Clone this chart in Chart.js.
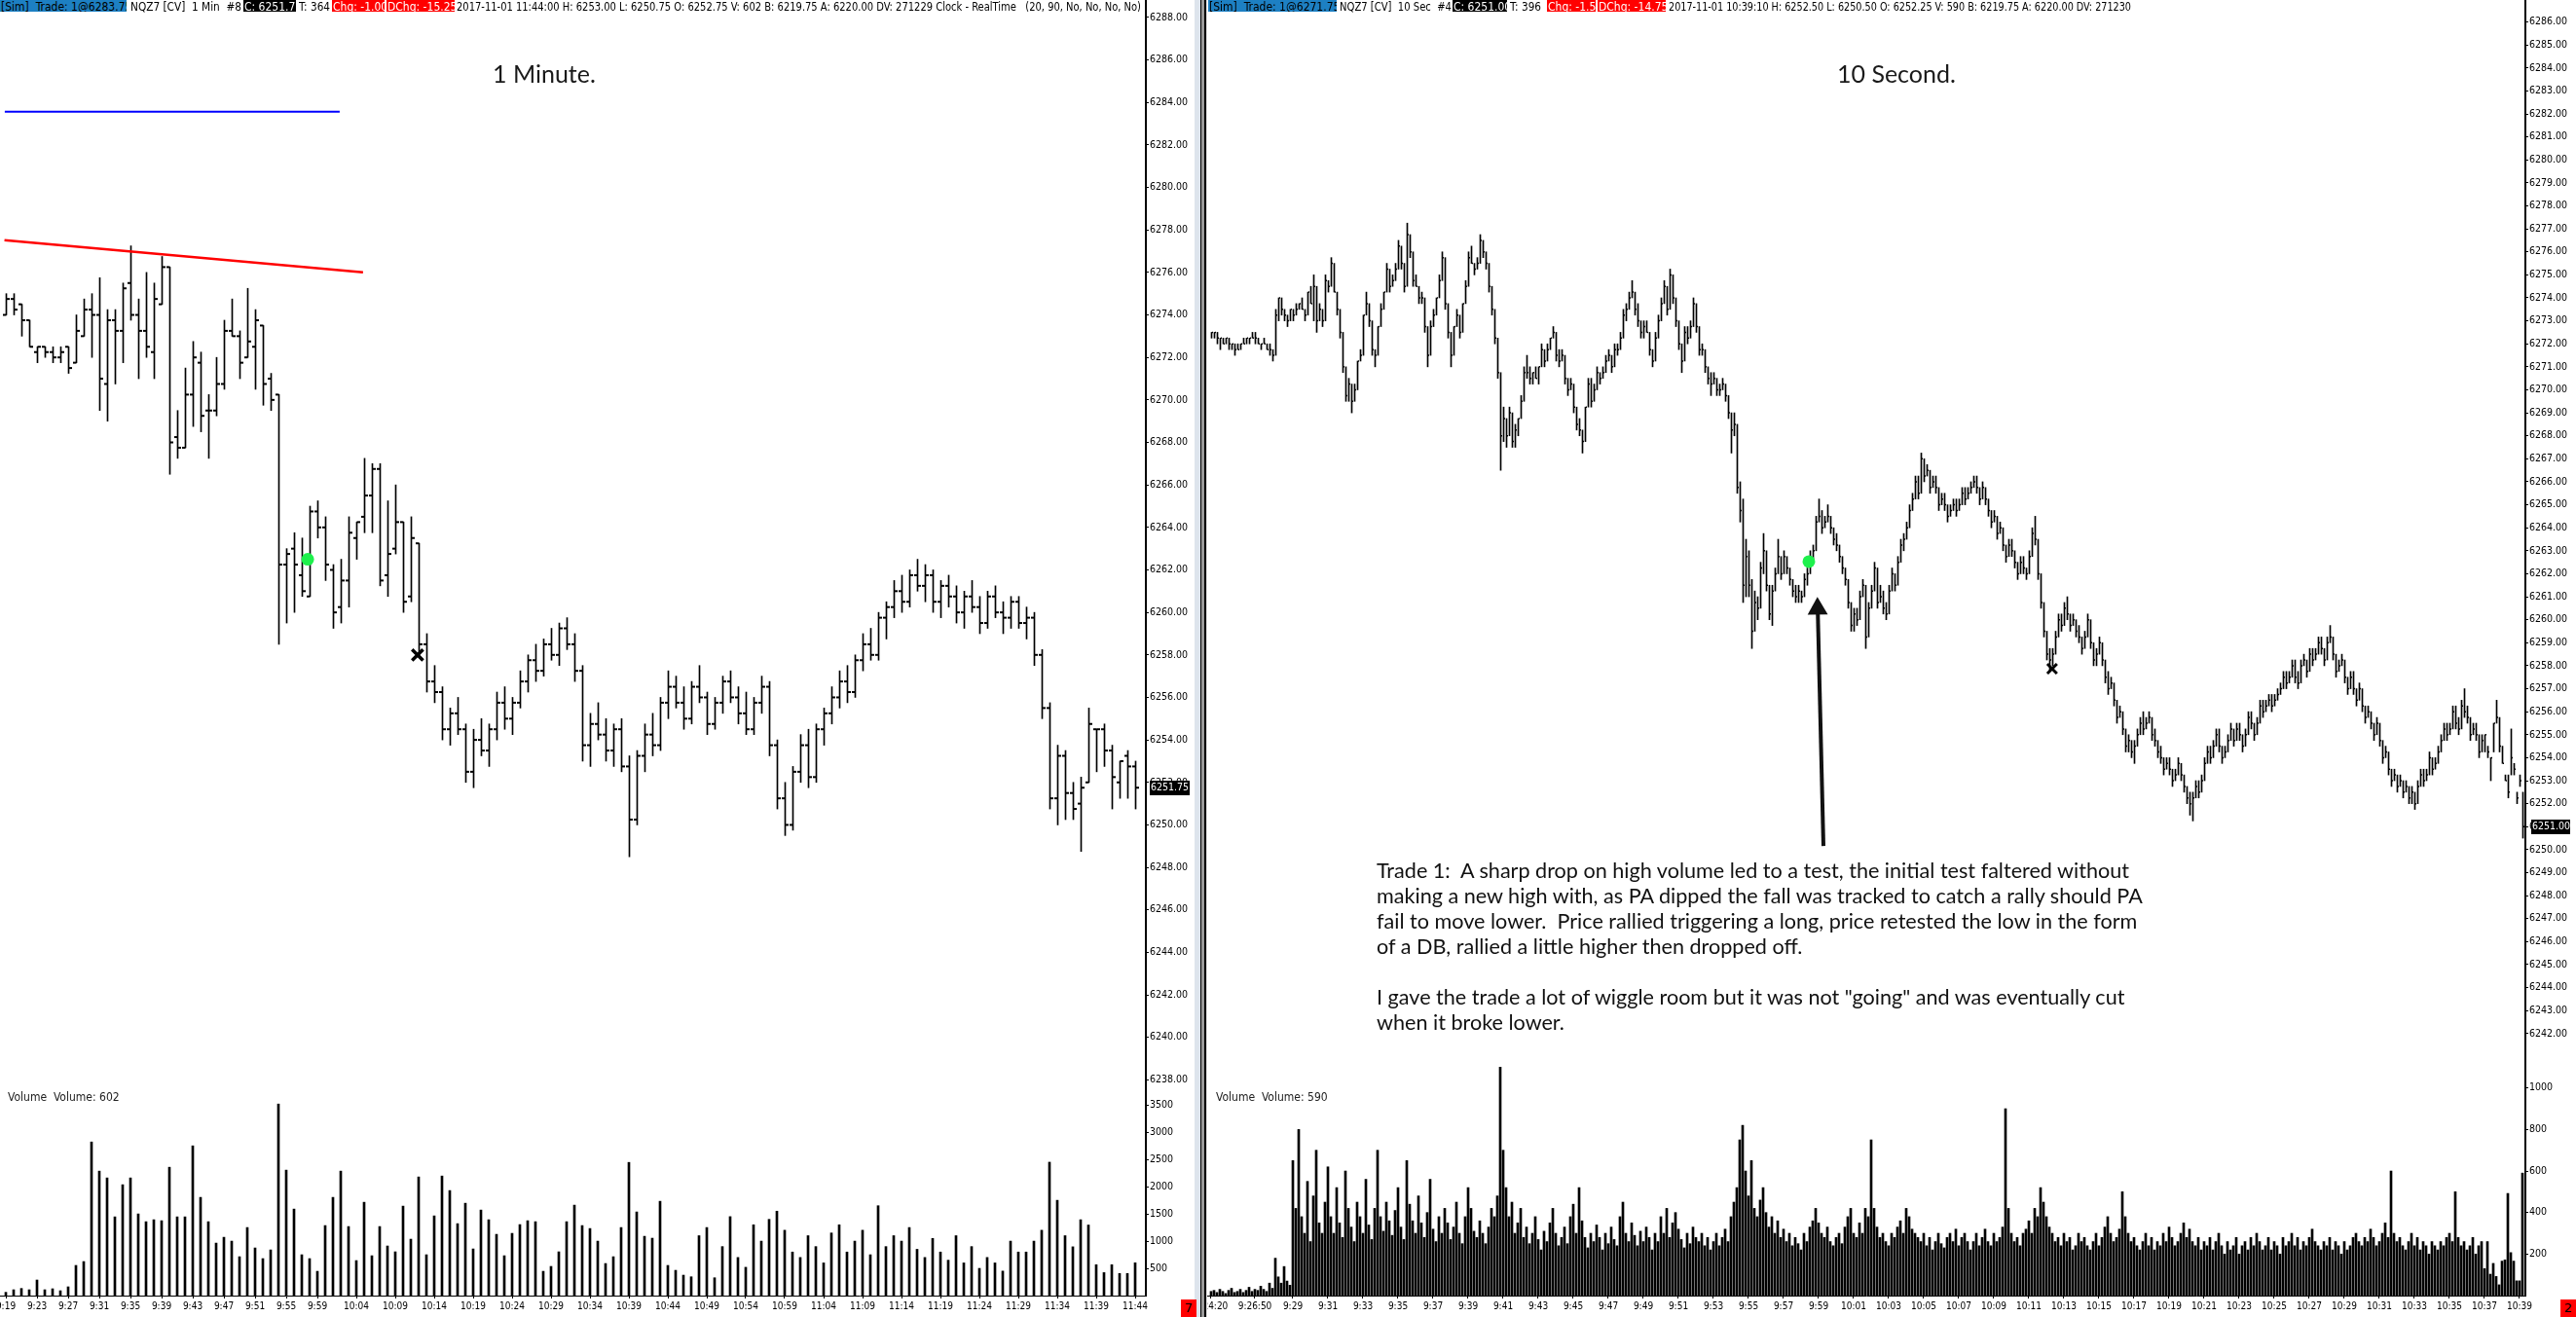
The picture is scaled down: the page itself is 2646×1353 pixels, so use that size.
<!DOCTYPE html>
<html>
<head>
<meta charset="utf-8">
<title>NQZ7 1 Min / 10 Sec</title>
<script src="https://cdn.jsdelivr.net/npm/chart.js@4.4.1/dist/chart.umd.min.js"></script>
<style>
  html, body { margin: 0; padding: 0; background: #fff; }
  body { width: 2646px; height: 1353px; position: relative; overflow: hidden; }
  .pane { position: absolute; top: 0; height: 1353px; overflow: hidden; }
  .pane canvas { position: absolute; }
  .hd { position: absolute; top: 0; height: 12px; line-height: 12px; font: 12px "Liberation Sans Narrow", "DejaVu Sans Condensed", sans-serif;
        white-space: pre; color: #000; transform-origin: 0 0; }
  .box { padding-left: 1px; box-sizing: border-box; overflow: hidden; }
  .sim { background: #1d80c3; }
  .blk { background: #000; color: #fff; }
  .red { background: #ff0000; color: #fff; }
  .ttl { position: absolute; font: 25px Lato, sans-serif; color: #1a1a1a; white-space: pre; }
  .vl { position: absolute; font: 12px "Liberation Sans Narrow", "DejaVu Sans Condensed", sans-serif; color: #222; white-space: pre; }
  .note { position: absolute; left: 1414px; font: 21px Lato, sans-serif; color: #111; white-space: pre; transform-origin: 0 0; }
  .sq { position: absolute; top: 1335px; height: 18px; width: 16px; background: #f00; color: #000;
        font: 13px "DejaVu Sans", sans-serif; text-align: center; line-height: 18px; }
  .sep { position: absolute; top: 0; height: 1353px; }
</style>
</head>
<body>

<div class="pane" style="left:0;width:1227px">
  <canvas id="lp" width="1252" height="1142" style="left:-20px;top:-12px"></canvas>
  <canvas id="lv" width="1252" height="247" style="left:-20px;top:1106px"></canvas>
</div>
<div class="pane" style="left:1240px;width:1406px">
  <canvas id="rp" width="1436" height="1099" style="left:-30px;top:-12px"></canvas>
  <canvas id="rv" width="1436" height="290" style="left:-30px;top:1063px"></canvas>
</div>

<div class="sep" style="left:1227px;width:6px;background:#dde4ec"></div>
<div class="sep" style="left:1233px;width:1px;background:#000"></div>
<div class="sep" style="left:1234px;width:3px;background:#9a9a9a"></div>
<div class="sep" style="left:1237px;width:2px;background:#000"></div>
<div class="sep" style="left:1239px;width:1px;background:#e4e4e4"></div>

<div class="hd box sim" data-w="130" style="left:0;width:130px">[Sim]  Trade: 1@6283.75</div>
<div class="hd" data-w="114" style="left:134px">NQZ7 [CV]  1 Min  #8</div>
<div class="hd box blk" style="left:250px;width:54px">C: 6251.75</div>
<div class="hd" data-w="32" style="left:307px">T: 364</div>
<div class="hd box red" style="left:341px;width:54px">Chg: -1.00</div>
<div class="hd box red" style="left:397px;width:70px">DChg: -15.25</div>
<div class="hd" data-w="703" style="left:469px">2017-11-01 11:44:00 H: 6253.00 L: 6250.75 O: 6252.75 V: 602 B: 6219.75 A: 6220.00 DV: 271229 Clock - RealTime   (20, 90, No, No, No, No)</div>

<div class="hd box sim" data-w="132" style="left:1241px;width:132px">[Sim]  Trade: 1@6271.75</div>
<div class="hd" data-w="115" style="left:1376px">NQZ7 [CV]  10 Sec  #4</div>
<div class="hd box blk" style="left:1492px;width:56px">C: 6251.00</div>
<div class="hd" data-w="32" style="left:1551px">T: 396</div>
<div class="hd box red" style="left:1589px;width:50px">Chg: -1.50</div>
<div class="hd box red" style="left:1641px;width:70px">DChg: -14.75</div>
<div class="hd" data-w="475" style="left:1714px">2017-11-01 10:39:10 H: 6252.50 L: 6250.50 O: 6252.25 V: 590 B: 6219.75 A: 6220.00 DV: 271230</div>

<div class="ttl" style="left:506px;top:60px">1 Minute.</div>
<div class="ttl" style="left:1887px;top:60px">10 Second.</div>

<div class="vl" style="left:8px;top:1120px">Volume  Volume: 602</div>
<div class="vl" style="left:1249px;top:1120px">Volume  Volume: 590</div>

<div class="note" id="n1" style="top:881px">Trade 1:  A sharp drop on high volume led to a test, the initial test faltered without</div>
<div class="note" style="top:907px">making a new high with, as PA dipped the fall was tracked to catch a rally should PA</div>
<div class="note" style="top:933px">fail to move lower.  Price rallied triggering a long, price retested the low in the form</div>
<div class="note" style="top:959px">of a DB, rallied a little higher then dropped off.</div>
<div class="note" style="top:1011px">I gave the trade a lot of wiggle room but it was not "going" and was eventually cut</div>
<div class="note" style="top:1037px">when it broke lower.</div>

<div class="sq" style="left:1213px">7</div>
<div class="sq" style="left:2630px">2</div>

<script>
// ================= 1 minute chart: bars 9:19 .. 11:44 =================
const minTickIdx = [0, 4, 8, 12, 16, 20, 24, 28, 32, 36, 40, 45, 50, 55, 60, 65, 70, 75, 80, 85, 90, 95, 100, 105, 110, 115, 120, 125, 130, 135, 140, 145];
const minTickLab = ['9:19', '9:23', '9:27', '9:31', '9:35', '9:39', '9:43', '9:47', '9:51', '9:55', '9:59', '10:04', '10:09', '10:14', '10:19', '10:24',
  '10:29', '10:34', '10:39', '10:44', '10:49', '10:54', '10:59', '11:04', '11:09', '11:14', '11:19', '11:24', '11:29', '11:34', '11:39', '11:44'];
const minPriceTicks = [6238, 6240, 6242, 6244, 6246, 6248, 6250, 6252, 6254, 6256, 6258, 6260, 6262, 6264, 6266, 6268, 6270, 6272, 6274, 6276,
  6278, 6280, 6282, 6284, 6286, 6288];
const minVolTicks = [500, 1000, 1500, 2000, 2500, 3000, 3500];

const minO = [
  6274.0, 6274.75, 6274.5, 6273.75, 6272.25, 6272.5, 6272.25, 6272.0, 6272.5, 6271.75, 6273.0, 6274.25, 6274.0, 6270.75, 6273.75, 6273.25, 6275.5, 6274.0, 6273.25, 6272.25,
  6274.5, 6276.25, 6268.25, 6267.75, 6270.25, 6271.75, 6269.5, 6269.5, 6270.75, 6273.25, 6273.0, 6272.0, 6272.5, 6273.5, 6271.0, 6270.25, 6262.25, 6263.0, 6261.75, 6260.75,
  6264.75, 6264.0, 6262.0, 6260.25, 6261.5, 6263.5, 6264.5, 6265.5, 6266.75, 6261.75, 6263.0, 6264.25, 6260.75, 6263.25, 6258.5, 6256.75, 6256.25, 6254.5, 6255.25, 6254.5,
  6252.5, 6254.0, 6253.5, 6254.5, 6255.75, 6255.0, 6255.75, 6256.75, 6257.75, 6257.25, 6258.5, 6258.0, 6259.25, 6258.5, 6257.25, 6253.75, 6254.75, 6254.25, 6253.5, 6254.5,
  6252.75, 6250.25, 6253.25, 6254.25, 6253.75, 6255.75, 6256.5, 6255.75, 6255.0, 6256.5, 6256.0, 6254.75, 6255.75, 6256.75, 6256.0, 6255.25, 6254.5, 6255.75, 6256.5, 6253.75,
  6251.25, 6250.0, 6252.5, 6253.75, 6252.25, 6254.5, 6255.25, 6256.0, 6256.75, 6256.25, 6257.75, 6258.5, 6258.0, 6259.75, 6260.25, 6261.0, 6260.5, 6261.75, 6261.25, 6261.75,
  6260.5, 6261.25, 6260.75, 6260.0, 6260.75, 6260.25, 6259.5, 6260.75, 6260.0, 6259.75, 6260.5, 6259.5, 6259.75, 6258.0, 6255.5, 6251.25, 6253.25, 6251.5, 6251.0, 6252.0,
  6254.5, 6254.5, 6253.5, 6252.0, 6253.25, 6252.75];
const minH = [
  6275.0, 6275.0, 6274.5, 6273.75, 6272.5, 6272.5, 6272.5, 6272.5, 6272.5, 6274.0, 6274.75, 6275.0, 6275.75, 6274.25, 6274.25, 6275.5, 6277.25, 6274.75, 6276.0, 6275.5,
  6276.75, 6276.25, 6269.5, 6271.5, 6272.75, 6272.25, 6270.25, 6272.0, 6273.75, 6274.75, 6273.25, 6275.25, 6274.25, 6273.5, 6271.25, 6270.25, 6263.0, 6263.75, 6263.5, 6265.0,
  6265.25, 6264.5, 6262.25, 6262.5, 6264.5, 6264.25, 6267.25, 6267.0, 6267.0, 6265.25, 6266.0, 6264.25, 6264.5, 6263.25, 6259.0, 6257.5, 6256.5, 6255.5, 6256.0, 6254.75,
  6254.5, 6255.0, 6254.75, 6256.25, 6256.5, 6256.0, 6257.25, 6258.0, 6258.5, 6258.75, 6259.25, 6259.5, 6259.75, 6259.0, 6257.5, 6255.25, 6255.75, 6255.0, 6254.75, 6255.0,
  6253.25, 6253.5, 6254.75, 6255.25, 6256.0, 6257.25, 6257.0, 6256.5, 6256.75, 6257.5, 6256.25, 6256.0, 6257.0, 6257.25, 6256.5, 6256.25, 6256.0, 6257.0, 6256.75, 6254.0,
  6252.0, 6252.75, 6254.25, 6254.5, 6254.75, 6255.5, 6256.5, 6257.25, 6257.5, 6258.0, 6259.0, 6259.25, 6260.0, 6260.5, 6261.5, 6261.75, 6262.0, 6262.5, 6262.25, 6262.0,
  6261.5, 6261.75, 6261.25, 6261.0, 6261.5, 6260.75, 6261.0, 6261.25, 6260.5, 6260.75, 6260.75, 6260.25, 6260.0, 6258.25, 6255.75, 6253.75, 6253.5, 6252.0, 6252.25, 6255.5,
  6254.5, 6254.75, 6253.75, 6253.0, 6253.5, 6253.0];
const minL = [
  6274.0, 6274.0, 6273.0, 6272.5, 6271.75, 6272.0, 6271.75, 6271.75, 6271.25, 6271.75, 6273.0, 6272.0, 6269.5, 6269.0, 6270.75, 6271.75, 6273.75, 6271.0, 6272.0, 6271.0,
  6274.5, 6266.5, 6267.25, 6267.75, 6268.75, 6268.5, 6267.25, 6269.25, 6270.5, 6273.0, 6271.0, 6272.0, 6270.5, 6269.75, 6269.5, 6258.5, 6259.5, 6260.0, 6260.75, 6260.75,
  6263.5, 6261.5, 6259.25, 6259.5, 6260.25, 6262.5, 6263.75, 6263.75, 6261.25, 6260.75, 6262.75, 6260.0, 6260.5, 6258.0, 6256.25, 6255.75, 6254.0, 6253.75, 6254.25, 6252.0,
  6251.75, 6253.25, 6252.75, 6254.0, 6254.5, 6254.25, 6255.5, 6256.25, 6256.75, 6257.0, 6257.75, 6257.5, 6258.25, 6256.75, 6253.0, 6252.75, 6254.0, 6253.0, 6252.75, 6252.5,
  6248.5, 6250.0, 6252.5, 6253.25, 6253.5, 6255.0, 6255.5, 6254.5, 6254.75, 6255.75, 6254.25, 6254.5, 6255.25, 6255.75, 6254.75, 6254.25, 6254.25, 6255.25, 6253.25, 6250.75,
  6249.5, 6249.75, 6252.0, 6251.75, 6252.0, 6253.75, 6254.75, 6255.5, 6255.75, 6256.0, 6257.25, 6257.75, 6257.75, 6258.75, 6259.75, 6260.0, 6260.25, 6261.0, 6260.5, 6260.0,
  6259.75, 6260.25, 6259.5, 6259.25, 6260.0, 6259.0, 6259.25, 6259.75, 6259.0, 6259.25, 6259.25, 6258.75, 6257.5, 6255.0, 6250.75, 6250.0, 6250.25, 6250.25, 6248.75, 6252.0,
  6252.5, 6252.75, 6250.75, 6251.25, 6251.25, 6250.75];
const minC = [
  6274.75, 6274.25, 6273.75, 6272.5, 6272.5, 6272.25, 6272.0, 6272.25, 6271.5, 6273.25, 6274.25, 6274.0, 6271.0, 6273.75, 6273.25, 6275.25, 6274.0, 6273.25, 6272.5, 6274.75,
  6276.25, 6268.0, 6267.75, 6270.25, 6272.0, 6269.25, 6269.5, 6270.75, 6273.25, 6273.0, 6271.75, 6272.75, 6273.75, 6270.75, 6270.0, 6262.25, 6262.75, 6262.25, 6261.0, 6264.75,
  6264.0, 6262.25, 6260.0, 6261.5, 6263.75, 6264.25, 6265.5, 6266.75, 6261.5, 6262.75, 6264.25, 6260.5, 6263.5, 6258.5, 6256.75, 6256.25, 6254.5, 6255.25, 6254.5, 6252.5,
  6254.0, 6253.5, 6254.5, 6255.75, 6255.0, 6255.75, 6256.75, 6257.75, 6257.25, 6258.5, 6258.0, 6259.25, 6258.5, 6257.25, 6253.75, 6254.75, 6254.25, 6253.5, 6254.5, 6252.75,
  6250.25, 6253.25, 6254.25, 6253.75, 6255.75, 6256.5, 6255.75, 6255.0, 6256.5, 6256.0, 6254.75, 6255.75, 6256.75, 6256.0, 6255.25, 6254.5, 6255.75, 6256.5, 6253.75, 6251.25,
  6250.0, 6252.5, 6253.75, 6252.25, 6254.5, 6255.25, 6256.0, 6256.75, 6256.25, 6257.75, 6258.5, 6258.0, 6259.75, 6260.25, 6261.0, 6260.5, 6261.75, 6261.25, 6261.75, 6260.5,
  6261.25, 6260.75, 6260.0, 6260.75, 6260.25, 6259.5, 6260.75, 6260.0, 6259.75, 6260.5, 6259.5, 6259.75, 6258.0, 6255.5, 6251.25, 6253.25, 6251.5, 6250.75, 6251.75, 6254.75,
  6254.5, 6253.5, 6252.25, 6253.0, 6252.75, 6251.75];
const minVol = [
  60, 107, 131, 107, 286, 107, 125, 89, 161, 554, 625, 2821, 2286, 2161, 1446, 2036, 2161, 1500, 1357, 1393,
  1375, 2357, 1446, 1446, 2750, 1804, 1357, 964, 1071, 1000, 714, 1250, 875, 679, 839, 3518, 2304, 1589, 750, 679,
  446, 1286, 1804, 2286, 1268, 643, 1714, 732, 1268, 911, 804, 1643, 1036, 2179, 750, 1464, 2196, 1929, 1321, 1696,
  857, 1571, 1393, 1125, 732, 1143, 1304, 1375, 1357, 446, 536, 804, 1357, 1661, 1286, 1232, 1000, 589, 714, 1250,
  2446, 1536, 1089, 1054, 1732, 554, 464, 375, 345, 1100, 1250, 327, 900, 1450, 700, 520, 1300, 1000, 1400, 1550,
  1200, 800, 700, 1100, 900, 600, 1150, 1300, 800, 1000, 1200, 750, 1650, 900, 1100, 1000, 1250, 850, 700, 1050,
  800, 650, 1100, 600, 900, 500, 700, 600, 450, 1000, 800, 800, 1000, 1200, 2450, 1750, 1100, 896, 1393, 1296,
  567, 422, 567, 406, 406, 602];

// drawings on the 1 minute chart, as [bar index, price]
const minBlueLine = [[-0.2, 6283.56], [42.8, 6283.56]];
const minRedLine = [[-0.24, 6277.52], [45.8, 6276.0]];
const minGreenDot = [[38.7, 6262.5]];
const minCross = [[52.8, 6258.0]];
const minLast = 6251.75;

// ================= 10 second chart =================
const secTickIdx = [0, 15, 28, 40, 52, 64, 76, 88, 100, 112, 124, 136, 148, 160, 172, 184, 196, 208, 220, 232, 244, 256, 268, 280, 292, 304, 316, 328,
  340, 352, 364, 376, 388, 400, 412, 424, 436, 448];
const secTickLab = ['9:24:20', '9:26:50', '9:29', '9:31', '9:33', '9:35', '9:37', '9:39', '9:41', '9:43', '9:45', '9:47', '9:49', '9:51', '9:53', '9:55',
  '9:57', '9:59', '10:01', '10:03', '10:05', '10:07', '10:09', '10:11', '10:13', '10:15', '10:17', '10:19', '10:21', '10:23', '10:25', '10:27', '10:29',
  '10:31', '10:33', '10:35', '10:37', '10:39'];
const secPriceTicks = [6242, 6243, 6244, 6245, 6246, 6247, 6248, 6249, 6250, 6251, 6252, 6253, 6254, 6255, 6256, 6257, 6258, 6259, 6260, 6261, 6262,
  6263, 6264, 6265, 6266, 6267, 6268, 6269, 6270, 6271, 6272, 6273, 6274, 6275, 6276, 6277, 6278, 6279, 6280, 6281, 6282, 6283, 6284, 6285, 6286];
const secVolTicks = [200, 400, 600, 800, 1000];

const secH = [
  6272.5, 6272.5, 6272.5, 6272.25, 6272.25, 6272.25, 6272.25, 6272.0, 6272.0, 6272.0,
  6272.0, 6272.25, 6272.25, 6272.25, 6272.5, 6272.5, 6272.25, 6272.0, 6272.25, 6272.0,
  6272.0, 6271.75, 6273.5, 6274.0, 6274.0, 6273.5, 6273.25, 6273.5, 6273.5, 6273.75,
  6273.75, 6274.0, 6273.5, 6274.25, 6274.5, 6275.0, 6274.5, 6273.75, 6273.5, 6275.0,
  6274.75, 6275.75, 6275.5, 6274.25, 6273.5, 6272.5, 6271.0, 6270.5, 6270.25, 6270.25,
  6271.25, 6271.75, 6273.25, 6274.25, 6273.75, 6273.0, 6271.75, 6272.75, 6273.75, 6274.25,
  6275.5, 6275.25, 6275.0, 6275.5, 6276.5, 6276.25, 6275.5, 6277.25, 6276.75, 6276.0,
  6275.0, 6274.5, 6274.25, 6274.0, 6272.75, 6273.0, 6273.5, 6274.0, 6275.0, 6276.0,
  6275.75, 6273.75, 6272.5, 6272.75, 6273.5, 6273.25, 6273.75, 6274.75, 6276.0, 6276.25,
  6275.5, 6275.75, 6276.75, 6276.5, 6276.0, 6275.5, 6274.5, 6273.5, 6272.25, 6270.75,
  6269.25, 6268.75, 6269.25, 6269.0, 6268.5, 6268.75, 6269.75, 6271.0, 6271.5, 6271.0,
  6270.75, 6271.0, 6271.0, 6272.0, 6271.75, 6272.0, 6272.25, 6272.75, 6272.5, 6271.75,
  6271.75, 6271.5, 6270.5, 6270.5, 6270.25, 6269.25, 6268.75, 6268.25, 6269.25, 6270.5,
  6270.5, 6270.25, 6271.0, 6270.75, 6271.0, 6271.5, 6271.75, 6271.5, 6272.0, 6272.0,
  6272.5, 6273.5, 6273.75, 6274.25, 6274.75, 6274.25, 6273.75, 6273.0, 6273.0, 6273.0,
  6272.5, 6271.75, 6272.5, 6273.25, 6274.0, 6274.75, 6274.5, 6275.25, 6275.0, 6274.0,
  6273.0, 6272.0, 6272.75, 6272.75, 6273.0, 6274.0, 6273.75, 6272.75, 6272.0, 6271.75,
  6271.0, 6270.75, 6270.75, 6270.5, 6270.25, 6270.5, 6270.25, 6269.75, 6269.0, 6269.0,
  6268.5, 6266.0, 6265.25, 6263.5, 6263.0, 6261.75, 6261.25, 6261.0, 6262.5, 6263.75,
  6263.0, 6261.5, 6261.5, 6262.25, 6263.5, 6262.75, 6263.0, 6262.75, 6262.25, 6261.75,
  6261.5, 6261.5, 6261.25, 6262.0, 6262.25, 6263.0, 6263.25, 6264.5, 6265.25, 6264.75,
  6264.5, 6265.0, 6264.5, 6264.0, 6263.75, 6263.25, 6262.75, 6262.25, 6261.75, 6260.75,
  6260.5, 6260.5, 6261.25, 6261.75, 6261.5, 6260.75, 6261.5, 6262.5, 6262.25, 6261.5,
  6261.25, 6260.75, 6261.5, 6262.25, 6262.0, 6262.75, 6263.5, 6263.75, 6264.25, 6265.0,
  6265.5, 6266.25, 6266.25, 6267.25, 6267.0, 6266.75, 6266.5, 6266.25, 6266.25, 6265.75,
  6265.5, 6265.5, 6265.0, 6265.0, 6265.25, 6265.25, 6265.25, 6265.75, 6265.75, 6265.75,
  6266.0, 6266.25, 6266.25, 6265.75, 6266.0, 6265.75, 6265.25, 6264.75, 6264.75, 6264.5,
  6264.25, 6264.0, 6263.25, 6263.5, 6263.5, 6263.0, 6262.5, 6262.75, 6262.75, 6262.25,
  6263.0, 6264.0, 6264.5, 6263.5, 6262.0, 6260.75, 6259.5, 6258.75, 6258.75, 6259.5,
  6260.25, 6260.25, 6260.75, 6261.0, 6260.25, 6260.25, 6260.0, 6259.75, 6259.25, 6259.5,
  6260.25, 6260.0, 6259.0, 6258.75, 6259.25, 6259.0, 6258.25, 6257.75, 6257.5, 6257.25,
  6256.5, 6256.25, 6256.0, 6255.25, 6255.0, 6254.75, 6254.75, 6255.25, 6255.75, 6256.0,
  6255.75, 6256.0, 6255.75, 6255.25, 6254.75, 6254.5, 6254.0, 6254.0, 6254.0, 6253.5,
  6253.5, 6254.0, 6253.75, 6253.25, 6252.75, 6252.5, 6252.5, 6253.0, 6253.0, 6253.25,
  6254.0, 6254.5, 6254.5, 6254.75, 6255.25, 6255.25, 6254.5, 6254.5, 6255.0, 6255.5,
  6255.25, 6255.5, 6255.5, 6255.0, 6255.25, 6256.0, 6256.0, 6255.5, 6255.75, 6256.5,
  6256.5, 6256.5, 6256.75, 6256.75, 6256.75, 6257.0, 6257.25, 6257.75, 6257.75, 6257.75,
  6258.25, 6258.25, 6257.75, 6258.25, 6258.5, 6258.25, 6258.75, 6258.75, 6258.75, 6259.25,
  6259.25, 6258.75, 6259.25, 6259.75, 6259.25, 6258.5, 6258.25, 6258.5, 6258.25, 6257.5,
  6257.75, 6257.75, 6257.0, 6257.25, 6257.0, 6256.25, 6256.25, 6256.0, 6255.5, 6255.75,
  6255.5, 6254.75, 6254.5, 6254.25, 6253.5, 6253.5, 6253.25, 6253.25, 6253.0, 6253.0,
  6252.75, 6252.75, 6252.5, 6253.0, 6253.5, 6253.5, 6253.5, 6254.25, 6254.0, 6254.0,
  6254.5, 6255.0, 6255.5, 6255.5, 6255.5, 6256.25, 6256.25, 6255.75, 6256.5, 6257.0,
  6256.25, 6255.75, 6255.5, 6255.5, 6255.0, 6255.0, 6255.0, 6254.5, 6254.0, 6255.5,
  6256.5, 6255.75, 6254.5, 6253.25, 6253.25, 6255.25, 6253.75, 6252.5, 6253.25, 6252.5];
const secL = [
  6272.25, 6272.25, 6272.0, 6271.75, 6272.0, 6272.0, 6271.75, 6271.75, 6271.5, 6271.75,
  6271.75, 6272.0, 6272.0, 6272.0, 6272.25, 6272.0, 6272.0, 6271.75, 6272.0, 6271.75,
  6271.5, 6271.25, 6271.5, 6273.0, 6273.25, 6273.0, 6272.75, 6273.0, 6273.0, 6273.25,
  6273.5, 6273.5, 6273.0, 6273.25, 6273.75, 6273.0, 6272.5, 6273.0, 6272.75, 6273.0,
  6274.25, 6274.5, 6274.25, 6273.25, 6272.25, 6270.75, 6269.5, 6269.5, 6269.0, 6269.5,
  6270.0, 6271.25, 6271.5, 6273.25, 6272.75, 6271.5, 6271.0, 6271.5, 6272.75, 6273.5,
  6274.25, 6274.25, 6274.5, 6274.75, 6275.25, 6275.25, 6274.25, 6274.5, 6275.75, 6274.5,
  6274.5, 6273.75, 6273.75, 6272.5, 6271.0, 6271.5, 6272.75, 6273.25, 6274.0, 6274.75,
  6273.5, 6272.25, 6271.0, 6271.5, 6272.75, 6272.25, 6272.5, 6273.75, 6274.5, 6275.5,
  6275.0, 6275.25, 6275.5, 6275.75, 6275.25, 6274.25, 6273.25, 6272.0, 6270.5, 6266.5,
  6267.75, 6267.5, 6268.0, 6267.5, 6267.5, 6268.0, 6268.75, 6269.5, 6270.5, 6270.25,
  6270.25, 6270.5, 6270.25, 6271.0, 6271.0, 6271.25, 6271.75, 6272.25, 6271.25, 6271.0,
  6271.25, 6270.25, 6269.75, 6270.0, 6269.0, 6268.25, 6268.0, 6267.25, 6267.75, 6269.25,
  6269.25, 6269.5, 6270.0, 6270.25, 6270.5, 6270.75, 6271.25, 6270.75, 6271.0, 6271.5,
  6271.75, 6272.25, 6273.0, 6273.5, 6274.0, 6273.25, 6272.75, 6272.25, 6272.25, 6272.5,
  6271.5, 6271.0, 6271.25, 6272.25, 6273.0, 6273.75, 6273.25, 6273.5, 6273.75, 6272.75,
  6271.75, 6270.75, 6271.25, 6272.0, 6272.25, 6272.75, 6272.5, 6271.5, 6271.5, 6270.75,
  6270.25, 6269.75, 6270.25, 6269.75, 6269.75, 6270.0, 6269.5, 6268.75, 6267.25, 6268.0,
  6265.5, 6264.25, 6260.75, 6261.0, 6261.0, 6258.75, 6259.5, 6260.0, 6260.5, 6262.0,
  6261.25, 6260.0, 6259.75, 6261.25, 6262.0, 6261.75, 6262.0, 6262.0, 6261.5, 6261.0,
  6260.75, 6260.75, 6260.75, 6261.0, 6261.5, 6262.0, 6262.5, 6263.0, 6264.25, 6263.75,
  6264.0, 6264.25, 6263.75, 6263.25, 6263.0, 6262.5, 6262.0, 6261.5, 6260.5, 6259.5,
  6259.5, 6259.75, 6260.0, 6261.0, 6258.75, 6259.25, 6260.5, 6261.25, 6260.5, 6260.75,
  6260.25, 6260.0, 6260.25, 6261.25, 6261.25, 6261.5, 6262.5, 6263.0, 6263.5, 6264.0,
  6264.75, 6265.25, 6265.25, 6265.5, 6266.0, 6266.25, 6265.5, 6265.75, 6265.5, 6264.75,
  6265.0, 6264.75, 6264.25, 6264.5, 6264.75, 6264.5, 6264.75, 6265.0, 6265.0, 6265.25,
  6265.5, 6265.75, 6265.5, 6265.0, 6265.25, 6265.0, 6264.5, 6264.0, 6264.25, 6263.5,
  6263.75, 6263.0, 6262.5, 6262.75, 6262.75, 6262.25, 6261.75, 6262.0, 6262.0, 6261.75,
  6262.0, 6262.75, 6263.25, 6261.75, 6260.5, 6259.25, 6258.25, 6257.75, 6258.0, 6258.5,
  6259.25, 6259.5, 6259.75, 6260.0, 6259.5, 6259.75, 6259.25, 6259.0, 6258.5, 6258.75,
  6259.25, 6258.75, 6258.0, 6258.0, 6258.5, 6258.0, 6257.25, 6256.75, 6257.0, 6256.25,
  6255.5, 6255.75, 6255.0, 6254.25, 6254.25, 6254.0, 6253.75, 6254.5, 6255.0, 6255.0,
  6255.25, 6255.5, 6254.75, 6254.5, 6254.0, 6253.75, 6253.25, 6253.5, 6253.25, 6252.75,
  6253.0, 6253.25, 6253.0, 6252.5, 6252.0, 6251.5, 6251.25, 6252.25, 6252.25, 6252.5,
  6253.0, 6253.75, 6253.75, 6254.0, 6254.5, 6254.25, 6253.75, 6254.0, 6254.25, 6254.75,
  6254.5, 6254.75, 6254.75, 6254.25, 6254.5, 6255.0, 6255.25, 6254.75, 6255.0, 6255.5,
  6255.75, 6256.0, 6256.25, 6256.0, 6256.25, 6256.5, 6256.75, 6257.0, 6257.0, 6257.25,
  6257.5, 6257.25, 6257.0, 6257.25, 6258.0, 6257.5, 6257.75, 6258.0, 6258.25, 6258.5,
  6258.5, 6258.0, 6258.25, 6259.0, 6258.25, 6257.5, 6257.75, 6258.0, 6257.25, 6256.75,
  6257.0, 6256.75, 6256.25, 6256.5, 6256.0, 6255.5, 6255.75, 6255.25, 6254.75, 6255.0,
  6254.5, 6253.75, 6254.0, 6253.25, 6252.75, 6253.0, 6252.5, 6252.75, 6252.25, 6252.5,
  6252.0, 6252.0, 6251.75, 6252.0, 6252.75, 6252.75, 6253.0, 6253.25, 6253.25, 6253.5,
  6253.75, 6254.25, 6254.75, 6254.75, 6255.0, 6255.25, 6255.25, 6255.0, 6255.25, 6255.75,
  6255.5, 6254.75, 6255.0, 6254.75, 6254.0, 6254.25, 6254.25, 6254.0, 6253.0, 6254.25,
  6255.5, 6254.25, 6253.75, 6253.0, 6252.25, 6253.25, 6253.25, 6252.0, 6252.75, 6250.5];
const secC = [
  6272.5, 6272.5, 6272.25, 6272.25, 6272.0, 6272.25, 6272.0, 6272.0, 6271.75, 6271.75, 6272.0, 6272.0, 6272.25, 6272.25, 6272.25, 6272.25, 6272.0, 6272.0, 6272.0, 6271.75,
  6271.75, 6271.5, 6273.25, 6274.0, 6273.5, 6273.25, 6273.0, 6273.5, 6273.25, 6273.5, 6273.75, 6273.5, 6273.25, 6274.25, 6273.75, 6274.5, 6273.0, 6273.5, 6273.0, 6274.75,
  6274.5, 6275.5, 6274.25, 6273.5, 6272.5, 6271.0, 6269.75, 6270.25, 6269.5, 6270.0, 6271.25, 6271.5, 6273.25, 6273.75, 6273.0, 6271.75, 6271.5, 6272.75, 6273.5, 6274.25,
  6275.25, 6274.5, 6274.75, 6275.25, 6276.25, 6275.5, 6274.5, 6276.75, 6276.0, 6274.75, 6274.5, 6274.0, 6274.0, 6272.75, 6271.5, 6272.75, 6273.25, 6274.0, 6274.75, 6275.75,
  6273.75, 6272.5, 6271.5, 6272.75, 6273.25, 6272.5, 6273.75, 6274.5, 6275.75, 6275.5, 6275.25, 6275.5, 6276.5, 6276.0, 6275.5, 6274.5, 6273.5, 6272.25, 6270.75, 6268.0,
  6268.75, 6268.0, 6269.0, 6267.75, 6268.25, 6268.75, 6269.5, 6270.75, 6270.75, 6270.5, 6270.75, 6270.5, 6271.0, 6271.75, 6271.25, 6271.75, 6272.25, 6272.5, 6271.5, 6271.25,
  6271.5, 6270.5, 6270.0, 6270.25, 6269.25, 6268.5, 6268.25, 6267.75, 6269.25, 6270.25, 6269.5, 6270.0, 6270.75, 6270.5, 6270.75, 6271.25, 6271.5, 6271.0, 6271.75, 6271.75,
  6272.25, 6273.25, 6273.5, 6274.0, 6274.25, 6273.5, 6273.0, 6272.5, 6272.75, 6272.5, 6271.75, 6271.25, 6272.25, 6273.0, 6273.75, 6274.5, 6273.5, 6275.0, 6274.0, 6273.0,
  6272.0, 6271.25, 6272.5, 6272.25, 6272.75, 6273.75, 6272.75, 6271.75, 6271.75, 6271.0, 6270.5, 6270.25, 6270.5, 6270.0, 6270.0, 6270.25, 6269.75, 6269.0, 6268.25, 6268.5,
  6265.75, 6264.75, 6261.5, 6262.75, 6261.5, 6259.5, 6260.75, 6260.5, 6262.25, 6263.0, 6261.5, 6260.25, 6261.25, 6262.0, 6262.75, 6262.0, 6262.75, 6262.25, 6261.75, 6261.25,
  6261.0, 6261.25, 6261.0, 6261.75, 6262.0, 6262.75, 6263.0, 6264.25, 6264.5, 6264.0, 6264.25, 6264.5, 6264.0, 6263.5, 6263.25, 6262.75, 6262.25, 6261.75, 6260.75, 6259.75,
  6260.25, 6260.0, 6261.0, 6261.5, 6259.25, 6260.5, 6261.25, 6262.25, 6260.75, 6261.0, 6260.5, 6260.25, 6261.25, 6262.0, 6261.5, 6262.5, 6263.25, 6263.5, 6264.0, 6264.75,
  6265.25, 6266.0, 6265.5, 6267.0, 6266.25, 6266.5, 6265.75, 6266.0, 6265.75, 6265.0, 6265.25, 6265.0, 6264.5, 6264.75, 6265.0, 6264.75, 6265.0, 6265.5, 6265.25, 6265.5,
  6265.75, 6266.0, 6265.75, 6265.25, 6265.75, 6265.25, 6264.75, 6264.25, 6264.5, 6263.75, 6264.0, 6263.25, 6262.75, 6263.25, 6263.0, 6262.5, 6262.0, 6262.5, 6262.25, 6262.0,
  6262.75, 6263.75, 6263.5, 6262.0, 6260.75, 6259.5, 6258.5, 6258.25, 6258.5, 6259.25, 6260.0, 6259.75, 6260.5, 6260.25, 6259.75, 6260.0, 6259.5, 6259.25, 6258.75, 6259.25,
  6260.0, 6259.0, 6258.25, 6258.5, 6259.0, 6258.25, 6257.5, 6257.0, 6257.25, 6256.5, 6255.75, 6256.0, 6255.25, 6254.5, 6254.75, 6254.25, 6254.5, 6255.0, 6255.5, 6255.25,
  6255.5, 6255.75, 6255.0, 6254.75, 6254.25, 6254.0, 6253.5, 6253.75, 6253.5, 6253.0, 6253.25, 6253.75, 6253.25, 6252.75, 6252.25, 6252.0, 6252.25, 6252.75, 6252.5, 6253.0,
  6253.75, 6254.25, 6254.0, 6254.5, 6255.0, 6254.5, 6254.0, 6254.25, 6254.75, 6255.25, 6254.75, 6255.25, 6255.0, 6254.5, 6255.0, 6255.75, 6255.5, 6255.0, 6255.5, 6256.25,
  6256.0, 6256.25, 6256.5, 6256.25, 6256.5, 6256.75, 6257.0, 6257.5, 6257.25, 6257.5, 6258.0, 6257.5, 6257.25, 6258.0, 6258.25, 6257.75, 6258.5, 6258.25, 6258.5, 6259.0,
  6258.75, 6258.25, 6259.0, 6259.25, 6258.5, 6257.75, 6258.0, 6258.25, 6257.5, 6257.0, 6257.5, 6257.0, 6256.5, 6257.0, 6256.25, 6255.75, 6256.0, 6255.5, 6255.0, 6255.5,
  6254.75, 6254.0, 6254.25, 6253.5, 6253.0, 6253.25, 6252.75, 6253.0, 6252.5, 6252.75, 6252.25, 6252.5, 6252.0, 6252.75, 6253.25, 6253.0, 6253.25, 6254.0, 6253.5, 6253.75,
  6254.25, 6254.75, 6255.25, 6255.0, 6255.25, 6256.0, 6255.5, 6255.25, 6256.25, 6256.0, 6255.75, 6255.0, 6255.25, 6255.0, 6254.25, 6254.75, 6255.0, 6254.25, 6254.0, 6255.5,
  6255.75, 6254.5, 6253.75, 6253.0, 6252.5, 6254.0, 6253.5, 6252.25, 6253.0, 6251.0];
const secVol = [
  20, 25, 15, 30, 20, 10, 25, 35, 15, 20,
  30, 15, 25, 40, 20, 30, 25, 45, 30, 20,
  60, 35, 180, 90, 60, 140, 70, 50, 650, 420,
  800, 380, 300, 550, 260, 480, 700, 350, 300, 450,
  620, 380, 300, 520, 350, 280, 600, 420, 330, 260,
  450, 380, 300, 560, 340, 270, 420, 700, 380, 310,
  450, 360, 290, 410, 520, 330, 270, 650, 440, 360,
  300, 480, 350, 280, 400, 560, 320, 260, 380, 300,
  420, 350, 270, 330, 450, 300, 250, 380, 520, 420,
  310, 280, 360, 300, 250, 330, 420, 380, 480, 1100,
  700, 520, 380, 450, 300, 350, 420, 280, 330, 250,
  300, 380, 270, 220, 310, 260, 350, 420, 300, 240,
  280, 330, 250, 380, 440, 300, 520, 360, 280, 230,
  300, 260, 340, 280, 220, 300, 250, 330, 270, 240,
  380, 450, 300, 260, 350, 290, 240, 310, 260, 330,
  280, 220, 300, 260, 380, 300, 420, 280, 350, 400,
  320, 270, 230, 300, 250, 330, 280, 260, 300, 240,
  280, 220, 260, 300, 240, 280, 320, 260, 380, 450,
  520, 750, 820, 600, 480, 650, 420, 380, 460, 520,
  400, 330, 380, 300, 360, 280, 320, 260, 300, 240,
  280, 250, 220, 300, 260, 330, 360, 420, 350, 300,
  280, 330, 260, 240, 280, 300, 250, 330, 380, 420,
  300, 280, 350, 300, 420, 380, 750, 420, 330, 280,
  300, 260, 240, 300, 280, 330, 360, 300, 420, 380,
  320, 300, 280, 260, 300, 240, 280, 220, 260, 300,
  250, 230, 280, 300, 260, 320, 240, 280, 300, 260,
  220, 260, 300, 240, 280, 320, 260, 240, 300, 260,
  280, 330, 900, 420, 300, 260, 280, 240, 300, 320,
  360, 300, 420, 380, 520, 450, 380, 330, 300, 260,
  280, 240, 300, 260, 280, 220, 240, 300, 260, 280,
  240, 220, 260, 300, 240, 280, 330, 380, 300, 260,
  280, 320, 500, 380, 300, 260, 280, 240, 220, 260,
  300, 240, 280, 220, 260, 240, 300, 260, 330, 280,
  240, 260, 300, 350, 280, 320, 260, 240, 280, 220,
  260, 240, 280, 220, 260, 300, 240, 200, 260, 220,
  240, 280, 200, 240, 260, 220, 280, 240, 300, 260,
  220, 240, 280, 220, 260, 240, 200, 280, 240, 260,
  300, 240, 280, 220, 260, 240, 280, 320, 260, 240,
  220, 260, 240, 280, 220, 260, 240, 200, 260, 220,
  240, 280, 300, 260, 240, 280, 260, 320, 280, 240,
  260, 300, 350, 280, 600, 300, 260, 280, 240, 220,
  260, 300, 240, 280, 220, 260, 240, 200, 260, 240,
  220, 260, 240, 280, 300, 260, 500, 280, 240, 260,
  220, 240, 280, 200, 240, 260, 130, 260, 103, 155,
  92, 52, 166, 172, 492, 207, 166, 71, 71, 590];

const secLast = 6251.00;
const secGreenDot = [[204.5, 6262.53]];
const secCross = [[287.8, 6257.87]];
const secArrowShaft = [[209.5, 6250.16], [207.57, 6260.3]];
const secArrowHead = [[207.5, 6260.48]];

// ================= helpers =================
const axisFontY = { family: 'DejaVu Sans Condensed', size: 10.5 };
const axisFontX = { family: 'DejaVu Sans Condensed', size: 10 };

const lastTag = {
  id: 'lastTag',
  afterDraw(chart, args, opts) {
    if (opts.value == null) return;
    const ctx = chart.ctx;
    const y = Math.round(chart.scales.y.getPixelForValue(opts.value));
    const x = chart.chartArea.right + opts.dx;
    ctx.save();
    ctx.fillStyle = '#000';
    ctx.fillRect(x, y - 7, opts.w, 15);
    ctx.fillStyle = '#fff';
    ctx.font = '10.5px "DejaVu Sans Condensed"';
    ctx.textBaseline = 'middle';
    ctx.fillText(opts.value.toFixed(2), x + 1, y + 0.5);
    ctx.restore();
  }
};

function yAxis(min, max, tickList, width, digits) {
  return {
    position: 'right', min, max, bounds: 'data',
    afterFit: s => { s.width = width; },
    afterBuildTicks: s => { s.ticks = tickList.map(v => ({ value: v })); },
    border: { color: '#000', width: 2 },
    grid: { drawOnChartArea: false, color: '#000', tickLength: 3 },
    ticks: { color: '#000', font: axisFontY, padding: 1, callback: v => v.toFixed(digits) }
  };
}

function xAxis(min, max, idx, lab) {
  const ax = { type: 'linear', min, max, bounds: 'data', offset: false, grid: { offset: false } };
  if (!idx) return Object.assign(ax, { display: false });
  return Object.assign(ax, {
    afterBuildTicks: s => { s.ticks = idx.map(v => ({ value: v })); },
    afterFit: s => { s.height = 22; },
    border: { color: '#000', width: 1 },
    grid: { offset: false, drawOnChartArea: false, color: '#000', tickLength: 3 },
    ticks: { autoSkip: false, maxRotation: 0, color: '#000', font: axisFontX, padding: 2, callback: (v, k) => lab[k] }
  });
}

function pts(list) { return list.map(p => ({ x: p[0], y: p[1] })); }

function ohlcSets(O, H, L, C, barW, off, r, w) {
  const idx = H.map((_, i) => i);
  const tick = { pointStyle: 'line', pointRadius: r, pointHoverRadius: r, pointBorderWidth: w, pointBorderColor: '#000', order: 2 };
  const sets = [
    { type: 'bar', data: idx.map(i => ({ x: i, y: [L[i], H[i]] })), backgroundColor: '#000', barThickness: barW, borderWidth: 0, order: 3 },
    Object.assign({ type: 'scatter', data: idx.map(i => ({ x: i + off, y: C[i] })) }, tick)
  ];
  if (O) sets.push(Object.assign({ type: 'scatter', data: idx.map(i => ({ x: i - off, y: O[i] })) }, tick));
  return sets;
}

function baseOpts(pad, scales, tag) {
  return {
    responsive: false, animation: false, events: [], devicePixelRatio: 1,
    layout: { padding: pad, autoPadding: false },
    scales,
    plugins: { legend: { display: false }, tooltip: { enabled: false }, lastTag: tag || {} }
  };
}

// ---------- 1 minute price ----------
new Chart(document.getElementById('lp'), {
  type: 'scatter',
  data: {
    datasets: ohlcSets(minO, minH, minL, minC, 1, 0.21875, 1.75, 2).concat([
      { type: 'line', data: pts(minBlueLine), borderColor: '#0000ff', borderWidth: 2, pointRadius: 0, order: 1 },
      { type: 'line', data: pts(minRedLine), borderColor: '#ff0000', borderWidth: 2.5, pointRadius: 0, order: 1 },
      { type: 'scatter', data: pts(minGreenDot), pointRadius: 6.5, pointBackgroundColor: '#1ef04c', pointBorderWidth: 0, order: 0 },
      { type: 'scatter', data: pts(minCross), pointStyle: 'crossRot', pointRadius: 8, pointBorderWidth: 3.5, pointBorderColor: '#000', order: 0 }
    ])
  },
  options: baseOpts({ left: 20, right: 0, top: 12, bottom: 12 }, {
    x: xAxis(-0.8125, 146.3125),
    y: yAxis(6237.606, 6288.82, minPriceTicks, 55, 2)
  }, { value: minLast, dx: 4, w: 41 }),
  plugins: [lastTag]
});

// ---------- 1 minute volume ----------
new Chart(document.getElementById('lv'), {
  type: 'scatter',
  data: { datasets: [{ type: 'bar', data: minVol.map((v, i) => ({ x: i, y: v })), backgroundColor: '#000', barThickness: 2, borderWidth: 0 }] },
  options: baseOpts({ left: 20, right: 0, top: 12, bottom: 0 }, {
    x: xAxis(-0.75, 146.375, minTickIdx, minTickLab),
    y: yAxis(0, 3807.6, minVolTicks, 55, 0)
  })
});

// ---------- 10 second price ----------
new Chart(document.getElementById('rp'), {
  type: 'scatter',
  data: {
    datasets: ohlcSets(null, secH, secL, secC, 1, 0.3333, 0.5, 1.5).concat([
      { type: 'line', data: pts(secArrowShaft), borderColor: '#111', borderWidth: 4, pointRadius: 0, order: 1 },
      { type: 'scatter', data: pts(secArrowHead), pointStyle: 'triangle', pointRadius: 12, rotation: -1, pointBackgroundColor: '#111', pointBorderWidth: 0, order: 1 },
      { type: 'scatter', data: pts(secGreenDot), pointRadius: 6.5, pointBackgroundColor: '#1ef04c', pointBorderWidth: 0, order: 0 },
      { type: 'scatter', data: pts(secCross), pointStyle: 'crossRot', pointRadius: 7, pointBorderWidth: 3, pointBorderColor: '#000', order: 0 }
    ])
  },
  options: baseOpts({ left: 30, right: 0, top: 12, bottom: 12 }, {
    x: xAxis(-1.5, 449.833),
    y: yAxis(6241.443, 6286.955, secPriceTicks, 52, 2)
  }, { value: secLast, dx: 6, w: 40 }),
  plugins: [lastTag]
});

// ---------- 10 second volume ----------
new Chart(document.getElementById('rv'), {
  type: 'scatter',
  data: { datasets: [{ type: 'bar', data: secVol.map((v, i) => ({ x: i, y: v })), backgroundColor: '#000', barThickness: 2, borderWidth: 0 }] },
  options: baseOpts({ left: 30, right: 0, top: 12, bottom: 0 }, {
    x: xAxis(-1.3333, 450, secTickIdx, secTickLab),
    y: yAxis(0, 1200.2, secVolTicks, 52, 0)
  })
});

// header segments squeezed to the widths measured on the original
document.querySelectorAll('[data-w]').forEach(el => {
  const w = el.getBoundingClientRect().width;
  if (w > 0) el.style.transform = 'scaleX(' + (Number(el.dataset.w) / w) + ')';
});
// the note block keeps one common squeeze, taken from its first line
const n1w = document.getElementById('n1').getBoundingClientRect().width;
document.querySelectorAll('.note').forEach(el => { el.style.transform = 'scaleX(' + (773 / n1w) + ')'; });
</script>
</body>
</html>
